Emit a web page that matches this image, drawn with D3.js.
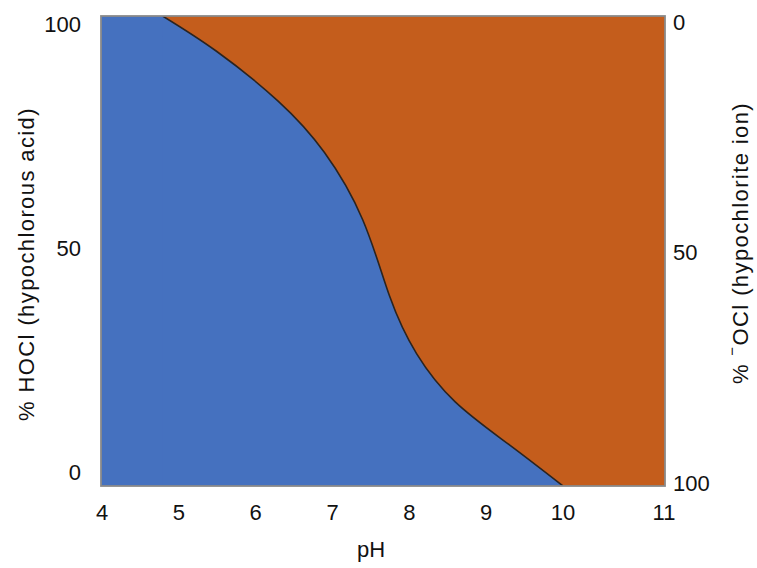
<!DOCTYPE html>
<html><head><meta charset="utf-8">
<script src="https://cdn.jsdelivr.net/npm/d3@7"></script>
<style>body{margin:0;background:#fff}svg{display:block}text{font-family:"Liberation Sans",Arial,sans-serif;fill:#111}</style>
</head><body><svg id="c" width="757" height="568"></svg>
<script>
const pH =   [4.8, 5.5, 6.3, 6.9, 7.4, 7.75, 8.1, 8.6, 9.3, 10.0];
const hocl = [100, 92.5, 81.9, 71.0, 56.6, 40.3, 28.1, 17.9, 8.8, 0];
const xDomain = [4, 11];
const xTicks = [4, 5, 6, 7, 8, 9, 10, 11];
const leftTicks = [0, 50, 100];
const rightTicks = [0, 50, 100];

const svg = d3.select("#c");
const x = d3.scaleLinear().domain([4, 10, 11]).range([101, 563, 665]);
const y = d3.scaleLinear().domain([0, 100]).range([486, 16]);
const xLab = d3.scaleLinear().domain([4, 10, 11]).range([102, 563, 664]);
const yLeftLab = d3.scaleLinear().domain([0, 100]).range([472, 24]);
const yRightLab = d3.scaleLinear().domain([0, 100]).range([22, 483]);

const data = pH.map((p, i) => ({p, v: hocl[i]}));
const x0 = x(xDomain[0]), x1 = x(xDomain[1]);

svg.append("clipPath").attr("id", "clip").append("rect")
  .attr("x", x0).attr("y", y(100)).attr("width", x1 - x0).attr("height", y(0) - y(100));
const g = svg.append("g").attr("clip-path", "url(#clip)");
g.append("rect").attr("x", x0).attr("y", y(100)).attr("width", x1 - x0).attr("height", y(0) - y(100)).attr("fill", "#C45D1C");
// fully acid region before the curve starts
g.append("rect").attr("x", x0).attr("y", y(100)).attr("width", x(pH[0]) - x0 + 0.5).attr("height", y(0) - y(100)).attr("fill", "#4571BF");
const area = d3.area().x(d => x(d.p)).y0(y(0)).y1(d => y(d.v)).curve(d3.curveNatural);
g.append("path").datum(data).attr("d", area).attr("fill", "#4571BF");
const line = d3.line().x(d => x(d.p)).y(d => y(d.v)).curve(d3.curveNatural);
g.append("path").datum(data).attr("d", line).attr("fill", "none").attr("stroke", "#2b2420").attr("stroke-width", 1.6);
svg.append("rect").attr("x", x0).attr("y", y(100)).attr("width", x1 - x0).attr("height", y(0) - y(100)).attr("fill", "none").attr("stroke", "#8a8a8a").attr("stroke-width", 1.8);

svg.selectAll(".xt").data(xTicks).enter().append("text")
  .attr("x", d => xLab(d)).attr("y", 512).attr("text-anchor", "middle").attr("dominant-baseline", "central")
  .style("font-size", "22px").text(d => d);
svg.selectAll(".lt").data(leftTicks).enter().append("text")
  .attr("x", 81).attr("y", d => yLeftLab(d)).attr("text-anchor", "end").attr("dominant-baseline", "central")
  .style("font-size", "22px").text(d => d);
svg.selectAll(".rt").data(rightTicks).enter().append("text")
  .attr("x", 673).attr("y", d => yRightLab(d)).attr("text-anchor", "start").attr("dominant-baseline", "central")
  .style("font-size", "22px").text(d => d);

svg.append("text").attr("x", 371).attr("y", 549).attr("text-anchor", "middle").attr("dominant-baseline", "central")
  .style("font-size", "22px").text("pH");
svg.append("text").attr("transform", "translate(26,264) rotate(-90)").attr("text-anchor", "middle").attr("dominant-baseline", "central")
  .style("font-size", "22px").style("letter-spacing", "1.4px").text("% HOCl (hypochlorous acid)");
const rt = svg.append("text").attr("transform", "translate(740,243) rotate(-90)").attr("text-anchor", "middle").attr("dominant-baseline", "central")
  .style("font-size", "22px").style("letter-spacing", "1.4px");
rt.append("tspan").text("% ");
rt.append("tspan").attr("baseline-shift", "super").style("font-size", "15px").text("\u2212");
rt.append("tspan").text("OCl (hypochlorite ion)");
</script></body></html>
